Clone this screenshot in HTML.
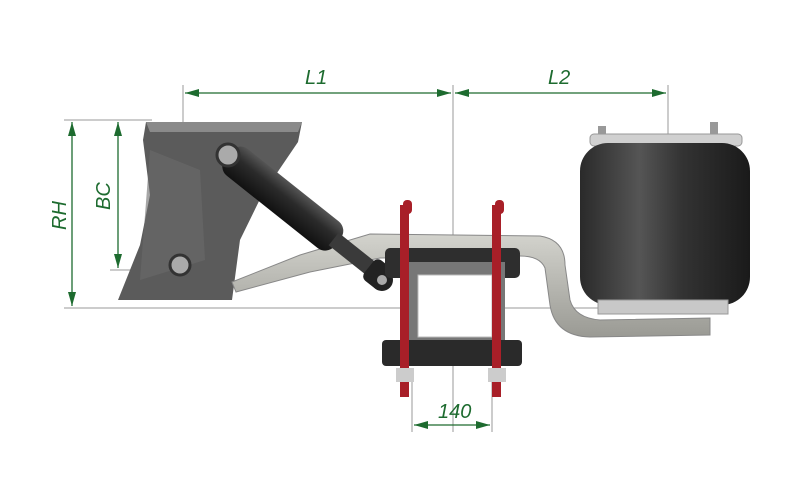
<!DOCTYPE html>
<html><head><meta charset="utf-8"><style>
html,body{margin:0;padding:0;background:#fff;}
svg{display:block}
text{font-family:"Liberation Sans",sans-serif;font-style:italic;fill:#1d6b2f;font-size:20px}
</style></head><body>
<svg width="800" height="497" viewBox="0 0 800 497" xmlns="http://www.w3.org/2000/svg">
<defs>
<marker id="a" markerWidth="14" markerHeight="8" refX="14" refY="4" orient="auto-start-reverse" markerUnits="userSpaceOnUse"><path d="M0,0 L14,4 L0,8 z" fill="#1d6b2f"/></marker>
<linearGradient id="bag" x1="0" x2="1"><stop offset="0" stop-color="#2a2a2a"/><stop offset=".35" stop-color="#555"/><stop offset=".6" stop-color="#333"/><stop offset="1" stop-color="#1a1a1a"/></linearGradient>
<linearGradient id="arm" x1="0" y1="0" x2="0" y2="1"><stop offset="0" stop-color="#d3d3cd"/><stop offset="1" stop-color="#9a9a94"/></linearGradient>
<linearGradient id="shock" x1="0" y1="0" x2="0" y2="1"><stop offset="0" stop-color="#555"/><stop offset=".4" stop-color="#2b2b2b"/><stop offset="1" stop-color="#111"/></linearGradient>
</defs>
<g stroke="#999" stroke-width="1" fill="none">
<line x1="183" y1="85" x2="183" y2="272"/>
<line x1="453" y1="85" x2="453" y2="432"/>
<line x1="668" y1="85" x2="668" y2="305"/>
<line x1="64" y1="120" x2="152" y2="120"/>
<line x1="110" y1="270" x2="180" y2="270"/>
<line x1="64" y1="308" x2="600" y2="308"/>
<line x1="412" y1="380" x2="412" y2="432"/>
<line x1="492" y1="380" x2="492" y2="432"/>
</g>
<path d="M146,122 L302,122 L298,142 L262,195 L240,240 L232,300 L118,300 L140,245 L150,195 L143,140 Z" fill="#5b5b5b"/>
<path d="M146,122 L302,122 L298,132 L150,132 Z" fill="#8a8a8a"/>
<path d="M150,150 L200,170 L205,260 L140,280 Z" fill="#6a6a6a" opacity=".6"/>
<path d="M232,282 L300,255 L370,234 L540,236 Q565,240 565,265 L570,300 Q575,318 600,320 L710,318 L710,335 L590,337 Q555,336 550,305 L545,268 Q540,256 520,256 L380,258 L310,272 L236,292 Z" fill="url(#arm)" stroke="#888" stroke-width="1"/>
<g transform="translate(228,155) rotate(38.5)">
<rect x="0" y="-17" width="140" height="34" rx="12" fill="url(#shock)"/>
<rect x="135" y="-8" width="50" height="16" fill="#3a3a3a"/>
<rect x="180" y="-13" width="25" height="26" rx="6" fill="#222"/>
</g>
<circle cx="228" cy="155" r="11" fill="#aaa" stroke="#333" stroke-width="3"/>
<circle cx="180" cy="265" r="10" fill="#aaa" stroke="#333" stroke-width="3"/>
<circle cx="382" cy="280" r="11" fill="#222"/><circle cx="382" cy="280" r="5" fill="#aaa"/>
<rect x="385" y="248" width="135" height="30" rx="5" fill="#2e2e2e"/>
<rect x="405" y="262" width="100" height="85" fill="#777"/>
<rect x="418" y="275" width="74" height="62" fill="#fff" stroke="#bbb"/>
<rect x="382" y="340" width="140" height="26" rx="4" fill="#2a2a2a"/>
<g fill="#a81f28">
<rect x="400" y="205" width="9" height="192"/>
<rect x="492" y="205" width="9" height="192"/>
<rect x="403" y="200" width="9" height="14" rx="4"/>
<rect x="495" y="200" width="9" height="14" rx="4"/>
</g>
<g fill="#ccc"><rect x="396" y="368" width="18" height="14"/><rect x="488" y="368" width="18" height="14"/></g>
<rect x="598" y="126" width="8" height="12" fill="#999"/><rect x="710" y="122" width="8" height="16" fill="#999"/>
<rect x="590" y="134" width="152" height="12" rx="4" fill="#d0d0d0" stroke="#999"/>
<rect x="580" y="143" width="170" height="162" rx="28" fill="url(#bag)"/>
<rect x="598" y="300" width="130" height="14" fill="#c8c8c8" stroke="#999"/>
<g stroke="#1d6b2f" stroke-width="1.3" fill="none">
<line x1="185" y1="93" x2="451" y2="93" marker-start="url(#a)" marker-end="url(#a)"/>
<line x1="455" y1="93" x2="666" y2="93" marker-start="url(#a)" marker-end="url(#a)"/>
<line x1="72" y1="122" x2="72" y2="306" marker-start="url(#a)" marker-end="url(#a)"/>
<line x1="118" y1="122" x2="118" y2="268" marker-start="url(#a)" marker-end="url(#a)"/>
<line x1="414" y1="425" x2="490" y2="425" marker-start="url(#a)" marker-end="url(#a)"/>
</g>
<text x="305" y="84">L1</text>
<text x="548" y="84">L2</text>
<text x="438" y="418">140</text>
<text transform="translate(66,230) rotate(-90)">RH</text>
<text transform="translate(110,210) rotate(-90)">BC</text>
</svg>
</body></html>
